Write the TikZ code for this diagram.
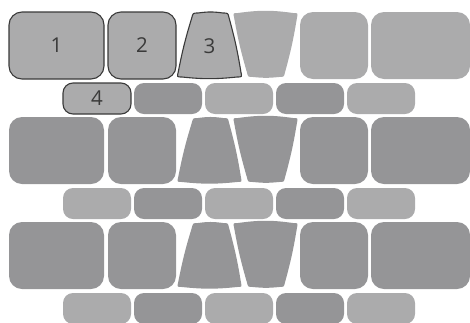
\documentclass[tikz,border=0pt]{standalone}
\usepackage{fontspec}
\setmainfont{Open Sans}
\usetikzlibrary{calc}
\definecolor{lightstone}{HTML}{ABABAC}
\definecolor{darkstone}{HTML}{959597}
\definecolor{outline}{HTML}{3A3A3A}
% tapered stone: corners tl, tr, br, bl
\newcommand{\trapstone}[5]{%
  \coordinate (tA) at #2; \coordinate (tB) at #3;
  \coordinate (tC) at #4; \coordinate (tD) at #5;
  \path[#1] ($(tA)!5pt!(tB)$) to[bend left=8] ($(tB)!5pt!(tA)$) .. controls (tB) .. ($(tB)!5pt!(tC)$)
    to[bend left=3] ($(tC)!5pt!(tB)$) .. controls (tC) .. ($(tC)!5pt!(tD)$)
    to[bend left=6] ($(tD)!5pt!(tC)$) .. controls (tD) .. ($(tD)!5pt!(tA)$)
    to[bend left=3] ($(tA)!5pt!(tD)$) .. controls (tA) .. ($(tA)!5pt!(tB)$) -- cycle;}
\begin{document}
\begin{tikzpicture}[x=1pt,y=-1pt,
    stone/.style={rounded corners=13pt,minimum height=67pt,inner sep=0pt,
      font=\fontsize{20.5}{20.5}\selectfont,text=outline},
    brick/.style={rounded corners=10pt,minimum width=68pt,minimum height=31pt,inner sep=0pt,
      font=\fontsize{20.5}{20.5}\selectfont,text=outline},
    edged/.style={draw=outline,line width=1.1pt}]
  \useasboundingbox (0,0) rectangle (470,322);
  \clip (0,0) rectangle (470,322);

  % top course
  \node[stone,edged,fill=lightstone,minimum width=95pt] (s11) at (56.5,45.5) {1};
  \node[stone,edged,fill=lightstone,minimum width=68pt] (s12) at (142,45.5) {2};
  \trapstone{edged,fill=lightstone}{(193,13)}{(228,13)}{(242,77)}{(177,77)}
  \node[text=outline,font=\fontsize{20.5}{20.5}\selectfont] (s13) at (209.5,46) {3};
  \trapstone{fill=lightstone}{(233,13)}{(298,13)}{(284,77)}{(248,77)}
  \node[stone,fill=lightstone,minimum width=68pt] (s15) at (334,45.5) {};
  \node[stone,fill=lightstone,minimum width=99pt] (s16) at (420.5,45.5) {};

  % lower courses
  \foreach \r/\y in {2/150.5,3/255.5}{
    \node[stone,fill=darkstone,minimum width=95pt] (s\r1) at (56.5,\y) {};
    \node[stone,fill=darkstone,minimum width=68pt] (s\r2) at (142,\y) {};
    \trapstone{fill=darkstone}{(193,{\y-32.5})}{(228,{\y-32.5})}{(242,{\y+31.5})}{(177,{\y+31.5})}
    \trapstone{fill=darkstone}{(233,{\y-32.5})}{(298,{\y-32.5})}{(284,{\y+31.5})}{(248,{\y+31.5})}
    \node[stone,fill=darkstone,minimum width=68pt] (s\r5) at (334,\y) {};
    \node[stone,fill=darkstone,minimum width=99pt] (s\r6) at (420.5,\y) {};
  }

  % thin courses
  \node[brick,edged,fill=lightstone] (b11) at (97,98.5) {4};
  \node[brick,fill=lightstone] (b21) at (97,203.5) {};
  \node[brick,fill=lightstone] (b31) at (97,308.5) {};
  \foreach \r/\y in {1/98.5,2/203.5,3/308.5}{
    \foreach \c/\x/\tone in {2/168/darkstone,3/239/lightstone,4/310/darkstone,5/381/lightstone}
      \node[brick,fill=\tone] (b\r\c) at (\x,\y) {};
  }
\end{tikzpicture}
\end{document}
